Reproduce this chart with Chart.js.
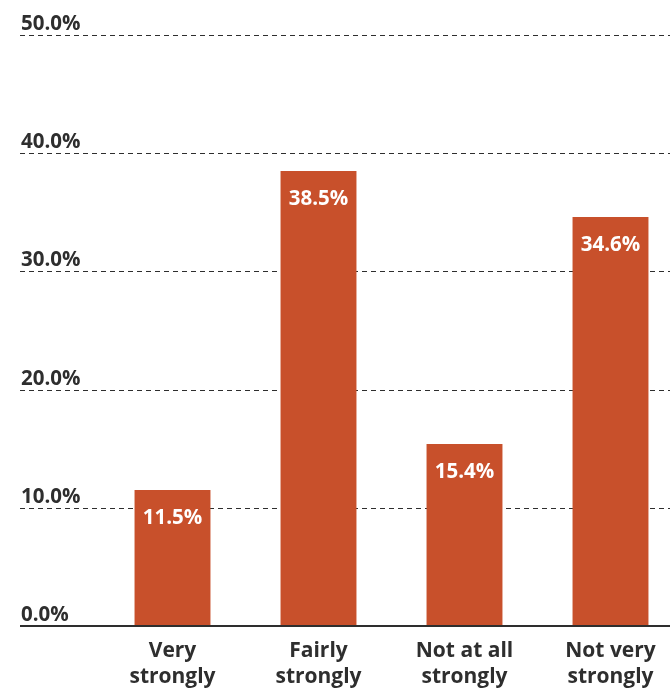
<!DOCTYPE html>
<html>
<head>
<meta charset="utf-8">
<script src="https://cdn.jsdelivr.net/npm/chart.js@4.4.1/dist/chart.umd.min.js"></script>
<style>
html, body { margin: 0; padding: 0; background: #fff; overflow: hidden; }
#wrap { position: relative; width: 700px; height: 693px; }
</style>
</head>
<body>
<div id="wrap"><canvas id="chart" width="700" height="693"></canvas></div>
<script>
// Chart data
const categories = [['Very', 'strongly'], ['Fairly', 'strongly'], ['Not at all', 'strongly'], ['Not very', 'strongly']];
const shares = [11.5, 38.5, 15.4, 34.6];
const yTicks = [0, 10, 20, 30, 40, 50];

const barColor = '#c8502b';
const textColor = '#2e2e2e';
const fontFamily = '"Open Sans", "Noto Sans", sans-serif';

// Dashed grid lines + tick labels sitting above them, starting left of the plot
const gridPlugin = {
    id: 'gridPlugin',
    beforeDatasetsDraw(chart) {
        const ctx = chart.ctx;
        const y = chart.scales.y;
        ctx.save();
        ctx.font = 'bold 20.5px ' + fontFamily;
        ctx.fillStyle = textColor;
        ctx.textAlign = 'left';
        ctx.textBaseline = 'alphabetic';
        yTicks.forEach(v => {
            const py = Math.round(y.getPixelForValue(v)) + 0.5;
            if (v > 0) {
                ctx.strokeStyle = textColor;
                ctx.lineWidth = 1.2;
                ctx.setLineDash([5, 4]);
                ctx.beginPath();
                ctx.moveTo(20, py);
                ctx.lineTo(chart.width, py);
                ctx.stroke();
            }
            ctx.fillText(v.toFixed(1) + '%', 21, py - 6);
        });
        ctx.restore();
    },
    afterDatasetsDraw(chart) {
        const ctx = chart.ctx;
        const y = chart.scales.y;
        const meta = chart.getDatasetMeta(0);
        ctx.save();
        // baseline
        ctx.strokeStyle = textColor;
        ctx.lineWidth = 2;
        ctx.setLineDash([]);
        ctx.beginPath();
        const by = Math.round(y.getPixelForValue(0));
        ctx.moveTo(20, by);
        ctx.lineTo(chart.width, by);
        ctx.stroke();
        // value labels
        ctx.font = 'bold 20.5px ' + fontFamily;
        ctx.fillStyle = '#ffffff';
        ctx.textAlign = 'center';
        ctx.textBaseline = 'alphabetic';
        meta.data.forEach((bar, i) => {
            ctx.fillText(shares[i].toFixed(1) + '%', bar.x, bar.y + 34);
        });
        ctx.restore();
    }
};

new Chart(document.getElementById('chart'), {
    type: 'bar',
    data: {
        labels: categories,
        datasets: [{
            data: shares,
            backgroundColor: barColor,
            borderWidth: 0,
            barPercentage: 0.52,
            categoryPercentage: 1
        }]
    },
    options: {
        responsive: false,
        animation: false,
        layout: { padding: { left: 99.5, right: 16.5, top: 35, bottom: 0 } },
        scales: {
            x: {
                grid: { display: false },
                border: { display: false },
                ticks: {
                    color: textColor,
                    font: { family: fontFamily, size: 21, weight: 'bold', lineHeight: 1.25 },
                    padding: 4,
                    maxRotation: 0
                },
                afterFit(scale) { scale.height = 67; }
            },
            y: {
                display: false,
                min: 0,
                max: 50
            }
        },
        plugins: {
            legend: { display: false },
            tooltip: { enabled: false }
        }
    },
    plugins: [gridPlugin]
});
</script>
</body>
</html>
